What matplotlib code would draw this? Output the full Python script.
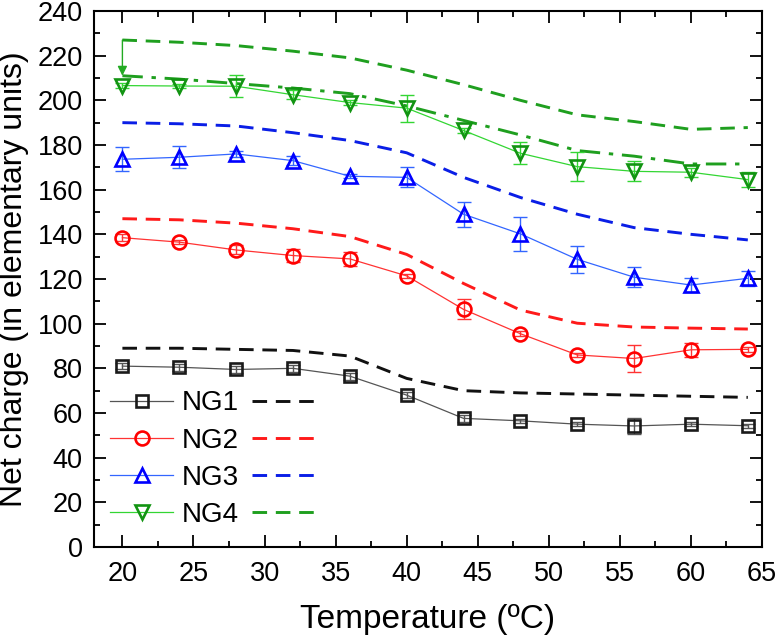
import matplotlib
matplotlib.use("Agg")
import matplotlib.pyplot as plt
from matplotlib.lines import Line2D
from matplotlib.ticker import MultipleLocator

plt.rcParams['font.family'] = ['Liberation Sans', 'DejaVu Sans']

temps = [20, 24, 28, 32, 36, 40, 44, 48, 52, 56, 60, 64]

ng1 = [81, 80.5, 79.5, 80, 76.5, 68, 57.6, 56.5, 55, 54.2, 55, 54.3]
ng1_err = [1.5, 1.5, 1.5, 1.5, 1.5, 1.5, 1.5, 1, 1, 3.5, 1, 1]
ng1_model = [89, 89, 88.5, 88, 85.5, 75.5, 70, 69, 68.5, 68, 67.5, 67]

ng2 = [138.5, 136.5, 133, 130.5, 129, 121.4, 106.4, 95.5, 86, 84.4, 88.3, 88.5]
ng2_err = [1.5, 1, 2, 3, 3, 1, 4.5, 1, 1, 6, 3, 1]
ng2_model = [147, 146.5, 145, 142.5, 139, 131, 118, 106.1, 100.2, 98.5, 98, 97.6]

ng3 = [173.6, 174.5, 176, 173, 166, 165.5, 149, 140.2, 128.8, 120.8, 117.3, 120.3]
ng3_err = [5.3, 5, 1.5, 2, 1, 4.5, 5.5, 7.5, 6, 4.5, 3, 3.5]
ng3_model = [190, 189.5, 188.5, 185.5, 182, 176.5, 165.5, 156.5, 149, 143, 140, 137.5]

ng4 = [206.6, 206.4, 206.3, 202.5, 199, 196.5, 186.5, 176.3, 170.3, 168.2, 167.8, 164.5]
ng4_err = [1, 1, 5, 2, 1, 6, 1, 5, 6.5, 4.5, 2, 3.5]
ng4_model = [227, 226, 224.5, 222, 219, 213.5, 207, 200, 193.5, 190.5, 187, 187.8]
ng4_model2 = [211, 209.5, 207.5, 205.5, 203, 197.5, 191, 184.5, 177.5, 175, 171.5, 171.5]

labels = ["NG1", "NG2", "NG3", "NG4"]
xlabel = "Temperature (ºC)"
ylabel = "Net charge (in elementary units)"

fig = plt.figure(figsize=(7.76, 6.38), dpi=100)
ax = fig.add_axes([0.1211, 0.1426, 0.8609, 0.8402])

series = [
    (ng1, ng1_err, ng1_model, 's', '#1a1a1a', '#555555', '#111111', 9),
    (ng2, ng2_err, ng2_model, 'o', '#ff0000', '#ff3333', '#ff1a1a', 10),
    (ng3, ng3_err, ng3_model, '^', '#0000ff', '#3366ff', '#0a1ee6', 10.5),
    (ng4, ng4_err, ng4_model, 'v', '#129412', '#33d633', '#1f9f1f', 10.5),
]

dash = (5, 3)
mhandles = []
dhandles = []
for (y, e, m, mk, mc, lc, dc, ms) in series:
    ax.errorbar(temps, y, yerr=e, fmt='none', ecolor=lc, elinewidth=1.0,
                capsize=5, capthick=1.0, zorder=3)
    ax.plot(temps, y, color=lc, lw=0.9, zorder=4)
    ax.plot(temps, y, ls='none', marker=mk, ms=ms, mfc='none', mec=mc,
            mew=1.9, zorder=5)
    ax.plot(temps, m, color=dc, lw=2.1, dashes=dash, zorder=2)
    mhandles.append(Line2D([], [], color=lc, lw=0.9, marker=mk, ms=ms,
                           mfc='none', mec=mc, mew=1.9))
    dhandles.append(Line2D([], [], color=dc, lw=2.1, dashes=dash))

ax.plot(temps, ng4_model2, color='#1f9f1f', lw=2.1,
        dashes=(7, 3, 1.5, 3), zorder=2)
ax.annotate('', xy=(temps[0], ng4_model2[0]), xytext=(temps[0], ng4_model[0]),
            arrowprops=dict(arrowstyle='-|>', color='#22aa22', lw=1.0,
                            mutation_scale=14, shrinkA=0, shrinkB=0))

ax.set_xlim(18, 65)
ax.set_ylim(0, 240)
ax.xaxis.set_major_locator(MultipleLocator(5))
ax.xaxis.set_minor_locator(MultipleLocator(2.5))
ax.yaxis.set_major_locator(MultipleLocator(20))
ax.yaxis.set_minor_locator(MultipleLocator(10))
ax.tick_params(which='both', direction='in', top=True, right=True,
               width=1.3, labelsize=19.5)
ax.tick_params(which='major', length=8.5)
ax.tick_params(which='minor', length=4.5)
ax.tick_params(axis='x', which='major', pad=10)
ax.tick_params(axis='y', which='major', pad=8)
for s in ax.spines.values():
    s.set_linewidth(1.5)

ax.set_xlabel(xlabel, fontsize=24, labelpad=12)
ax.set_ylabel(ylabel, fontsize=23)
ax.yaxis.set_label_coords(-0.098, 0.5)

leg = ax.legend(mhandles + dhandles, labels + [''] * 4, ncol=2,
                loc='center left', bbox_to_anchor=(0.024, 0.164),
                fontsize=20, frameon=False, handlelength=2.27,
                handletextpad=0.32, columnspacing=0.45, labelspacing=0.4,
                borderaxespad=0, borderpad=0)

fig.savefig('out.png', dpi=100)
